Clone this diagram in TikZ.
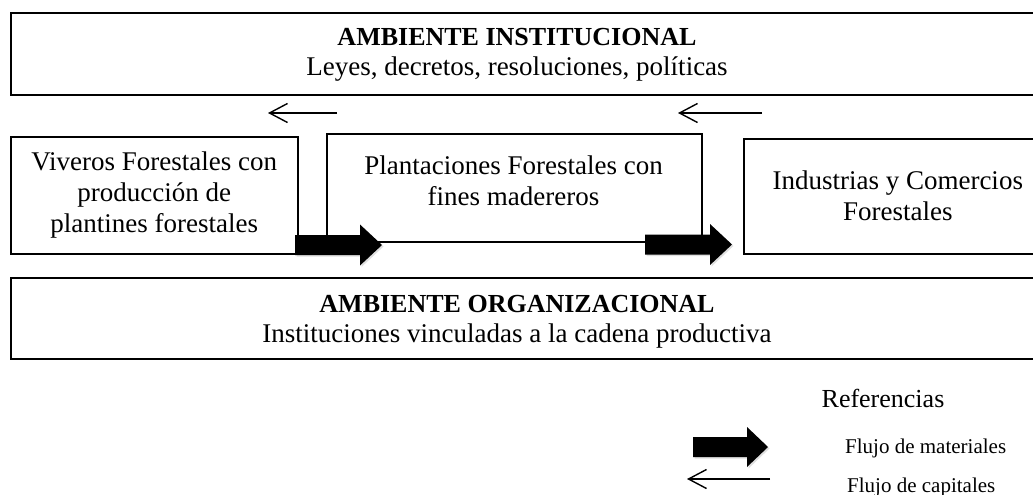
\documentclass[tikz,border=0pt]{standalone}
\usepackage{fontspec}
\setmainfont{Liberation Serif}
\usetikzlibrary{arrows.meta,shadows}
\begin{document}
\begin{tikzpicture}[x=1pt,y=-1pt,
    caja/.style={draw,line width=1.5pt,inner sep=0pt,align=center,
      font=\fontsize{27}{31}\selectfont},
    ambiente/.style={caja,line width=2.2pt,minimum width=1040pt,minimum height=82pt,anchor=north west},
    texto/.style={align=center,inner sep=0pt,font=\fontsize{27}{30}\selectfont},
    capital/.style={line width=1.4pt,-{Straight Barb[length=18pt,width=19pt,line width=1.4pt]}},
    material/.style={fill=black,drop shadow={shadow xshift=1.5pt,shadow yshift=-1.5pt,opacity=0.25}}]
  \useasboundingbox (0,0) rectangle (1033,495);
  % ambientes
  \node[ambiente] (inst) at (10,12) {};
  \node[texto] (insttxt) at (517,55) {{\fontsize{26}{30}\selectfont\textbf{AMBIENTE INSTITUCIONAL}}\\Leyes, decretos, resoluciones, políticas};
  \node[ambiente,minimum height=81pt] (org) at (10,277) {};
  \node[texto] (orgtxt) at (517,322) {{\fontsize{26}{30}\selectfont\textbf{AMBIENTE ORGANIZACIONAL}}\\Instituciones vinculadas a la cadena productiva};
  % eslabones
  \node[caja,minimum width=287pt,minimum height=117pt,anchor=north west] (viveros) at (10,136)
    {Viveros Forestales con\\producción de\\plantines forestales};
  \node[caja,minimum width=375pt,minimum height=108pt,anchor=north west] (plant) at (326,133) {};
  \node[texto,font=\fontsize{27}{31}\selectfont] (planttxt) at (513.5,181) {Plantaciones Forestales con\\fines madereros};
  \node[caja,minimum width=308pt,minimum height=115pt,anchor=north west] (ind) at (743,138)
    {Industrias y Comercios\\Forestales};
  % flujo de capitales
  \coordinate (c1a) at (337,113);
  \coordinate (c1b) at (268,113);
  \coordinate (c2a) at (762,113);
  \coordinate (c2b) at (678,113);
  \draw[capital] (c1a) -- (c1b);
  \draw[capital] (c2a) -- (c2b);
  % flujo de materiales
  \coordinate (m1) at (295,245);
  \coordinate (m2) at (645,244.5);
  \path[material] (m1) ++(0,-10) -- ++(65,0) -- ++(0,-10.5) -- ++(22,20.5) -- ++(-22,20.5) -- ++(0,-10.5) -- ++(-65,0) -- cycle;
  \path[material] (m2) ++(0,-10) -- ++(65,0) -- ++(0,-10.5) -- ++(22,20.5) -- ++(-22,20.5) -- ++(0,-10.5) -- ++(-65,0) -- cycle;
  % referencias
  \node[texto,font=\fontsize{26}{30}\selectfont] (ref) at (883,398) {Referencias};
  \coordinate (m3) at (693,447);
  \path[material] (m3) ++(0,-10) -- ++(54,0) -- ++(0,-10) -- ++(21,20) -- ++(-21,20) -- ++(0,-10) -- ++(-54,0) -- cycle;
  \node[texto,anchor=west,font=\fontsize{21}{25}\selectfont] (refmat) at (845,448) {Flujo de materiales};
  \coordinate (c3a) at (770,479);
  \coordinate (c3b) at (687,479);
  \draw[capital] (c3a) -- (c3b);
  \node[texto,anchor=west,font=\fontsize{21}{25}\selectfont] (refcap) at (847,487) {Flujo de capitales};
\end{tikzpicture}
\end{document}
